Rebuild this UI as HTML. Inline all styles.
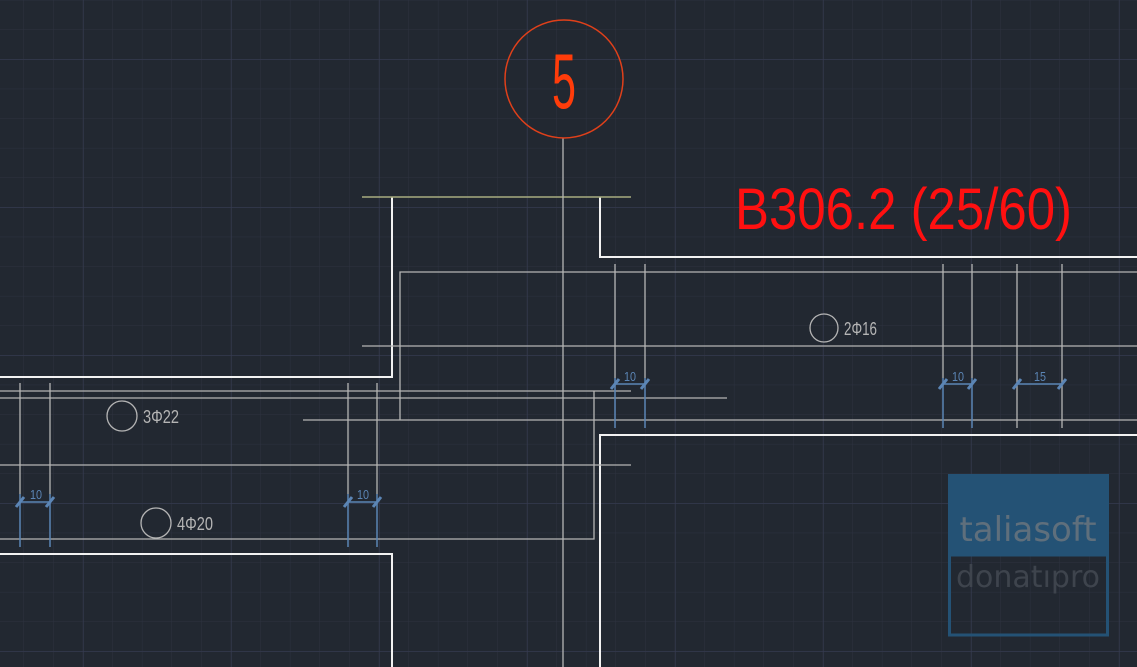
<!DOCTYPE html>
<html><head><style>body{margin:0;background:#222831;}svg{display:block}</style></head><body>
<svg width="1137" height="667" viewBox="0 0 1137 667" xmlns="http://www.w3.org/2000/svg">
<defs>
<pattern id="mn" width="29.6" height="29.6" patternUnits="userSpaceOnUse" x="-5.6" y="0.4">
<path d="M29.6 0V29.6M0 29.6H29.6" stroke="#2d3240" stroke-width="1" fill="none"/>
</pattern>
<pattern id="mj" width="148" height="148" patternUnits="userSpaceOnUse" x="-64" y="-88">
<path d="M148 0V148M0 148H148" stroke="#363c52" stroke-width="1" fill="none"/>
</pattern>
</defs>
<rect width="1137" height="667" fill="#222831"/>
<rect width="1137" height="667" fill="url(#mn)"/>
<rect width="1137" height="667" fill="url(#mj)"/>
<g fill="none" stroke="#f2f2f2" stroke-width="2">
<path d="M0 377H392V197"/>
<path d="M600 197V257H1137"/>
<path d="M1137 435H600V667"/>
<path d="M0 554H392V667"/>
</g>
<line x1="362" y1="197" x2="631" y2="197" stroke="#a7ac80" stroke-width="1.5"/>
<g fill="none" stroke="#b5b5b5" stroke-width="1.3">
<line x1="563" y1="138" x2="563" y2="667"/>
<path d="M1137 272H400V420"/>
<line x1="362" y1="346" x2="1137" y2="346"/>
<line x1="303" y1="420" x2="1137" y2="420"/>
<line x1="0" y1="391" x2="631" y2="391"/>
<line x1="0" y1="398" x2="727" y2="398"/>
<line x1="0" y1="465" x2="631" y2="465"/>
<path d="M0 539H594V391"/>
<line x1="615" y1="264" x2="615" y2="378"/><line x1="645" y1="264" x2="645" y2="378"/>
<line x1="943" y1="264" x2="943" y2="378"/><line x1="972" y1="264" x2="972" y2="378"/>
<line x1="1017" y1="264" x2="1017" y2="428"/><line x1="1062" y1="264" x2="1062" y2="428"/>
<line x1="20" y1="383" x2="20" y2="494"/><line x1="50" y1="383" x2="50" y2="494"/>
<line x1="348" y1="383" x2="348" y2="494"/><line x1="377" y1="383" x2="377" y2="494"/>
<circle cx="122" cy="416" r="15"/><circle cx="156" cy="523" r="15"/><circle cx="824" cy="328" r="14"/>
</g>
<g stroke="#5b85b5" stroke-width="1.5" fill="none">
<path d="M20 494V547M50 494V547M20 502H50M348 494V547M377 494V547M348 502H377"/>
<path d="M615 378V428M645 378V428M615 384H645M943 378V428M972 378V428M943 384H972M1017 384H1062"/>
</g>
<g stroke="#5b85b5" stroke-width="3">
<path d="M16 507L24 497M46 507L54 497M344 507L352 497M373 507L381 497"/>
<path d="M611 389L619 379M641 389L649 379M939 389L947 379M968 389L976 379M1013 389L1021 379M1058 389L1066 379"/>
</g>
<g fill="#5b85b5" font-family="Liberation Sans Narrow, Liberation Sans, sans-serif" font-size="13" transform="scale(1 1)">
<text x="30" y="499" textLength="12" lengthAdjust="spacingAndGlyphs">10</text><text x="357" y="499" textLength="12" lengthAdjust="spacingAndGlyphs">10</text>
<text x="624" y="381" textLength="12" lengthAdjust="spacingAndGlyphs">10</text><text x="952" y="381" textLength="12" lengthAdjust="spacingAndGlyphs">10</text><text x="1034" y="381" textLength="12" lengthAdjust="spacingAndGlyphs">15</text>
</g>
<g fill="#b5b5b5" font-family="Liberation Sans Narrow, Liberation Sans, sans-serif" font-size="18">
<text x="143" y="423" textLength="36" lengthAdjust="spacingAndGlyphs">3Φ22</text><text x="177" y="530" textLength="36" lengthAdjust="spacingAndGlyphs">4Φ20</text><text x="844" y="335" textLength="33" lengthAdjust="spacingAndGlyphs">2Φ16</text>
</g>
<circle cx="564" cy="79" r="59" fill="none" stroke="#e0401a" stroke-width="1.5"/>
<text x="564" y="108" text-anchor="middle" fill="#ff3c0a" font-family="Liberation Sans Narrow, Liberation Sans, sans-serif" font-size="78" textLength="24" lengthAdjust="spacingAndGlyphs">5</text>
<text x="735" y="229" fill="#ff1010" font-family="Liberation Sans Narrow, Liberation Sans, sans-serif" font-size="58" textLength="337" lengthAdjust="spacingAndGlyphs">B306.2 (25/60)</text>
<rect x="948" y="474" width="161" height="81" fill="#245275"/>
<rect x="949.5" y="555" width="158" height="80" fill="none" stroke="#245275" stroke-width="3"/>
<text x="1028" y="541" text-anchor="middle" fill="#5f6f7c" font-family="DejaVu Sans, Liberation Sans, sans-serif" font-size="34">taliasoft</text>
<text x="1028" y="587" text-anchor="middle" fill="#3e444d" font-family="DejaVu Sans, Liberation Sans, sans-serif" font-size="30">donatıpro</text>
</svg>
</body></html>
